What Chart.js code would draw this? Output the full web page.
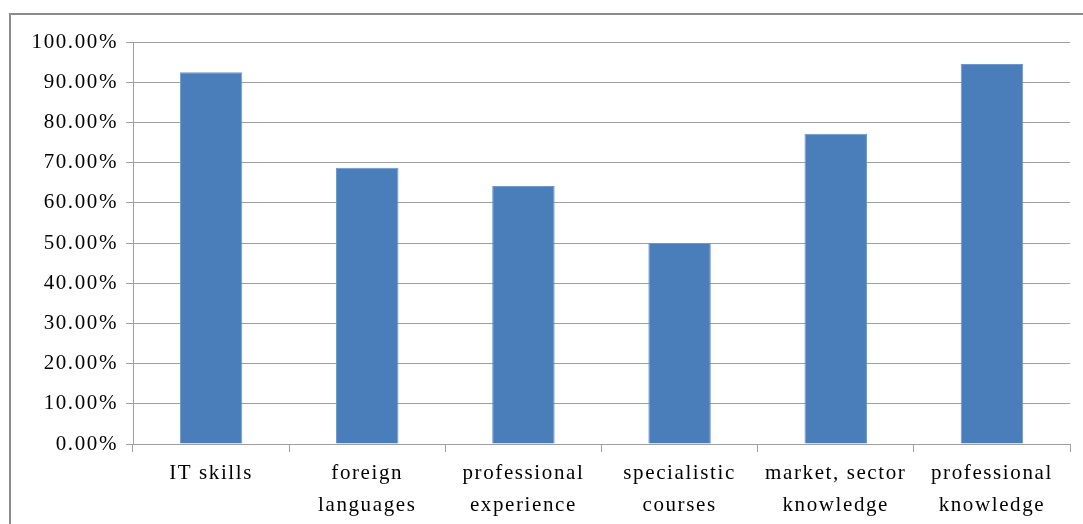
<!DOCTYPE html>
<html>
<head>
<meta charset="utf-8">
<script src="https://cdn.jsdelivr.net/npm/chart.js@4/dist/chart.umd.min.js"></script>
<style>
  html, body { margin: 0; padding: 0; background: #fff; overflow: hidden; }
  #frame { position: absolute; left: 9px; top: 13px; width: 1200px; height: 700px;
           border: 2px solid #8c8c8c; box-sizing: border-box; }
  #chart { position: absolute; left: 0; top: 0; }
</style>
</head>
<body>
<div id="frame"></div>
<canvas id="chart" width="1083" height="524"></canvas>
<script>
// ── DATA ────────────────────────────────────────────────
const categories = [
  ['IT skills'],
  ['foreign', 'languages'],
  ['professional', 'experience'],
  ['specialistic', 'courses'],
  ['market, sector', 'knowledge'],
  ['professional', 'knowledge'],
];
const shares = [92.5, 68.7, 64.2, 50.0, 77.2, 94.5];
const yTicks = [0, 10, 20, 30, 40, 50, 60, 70, 80, 90, 100];

// ── STYLE ───────────────────────────────────────────────
const FONT = { family: '"Liberation Serif", "Times New Roman", serif', size: 21 };
const GRID = '#a0a0a0';
const SPACING = '1.6px';

// canvas letter spacing, re-applied since resizes reset the context
const letterSpacing = {
  id: 'letterSpacing',
  beforeLayout(chart) { chart.ctx.letterSpacing = SPACING; },
  beforeDraw(chart)   { chart.ctx.letterSpacing = SPACING; },
};

new Chart(document.getElementById('chart'), {
  type: 'bar',
  data: {
    labels: categories,
    datasets: [{
      data: shares,
      backgroundColor: '#4A7EBB',
      borderColor: '#6d97cc',
      borderWidth: 1,
      categoryPercentage: 1,
      barPercentage: 0.4,
    }],
  },
  options: {
    responsive: false,
    animation: false,
    layout: { padding: { top: 42, right: 13, left: 0, bottom: 0 } },
    plugins: { legend: { display: false }, tooltip: { enabled: false } },
    scales: {
      x: {
        grid: { drawOnChartArea: false, drawTicks: true, tickLength: 8, color: GRID, offset: true },
        border: { color: GRID, width: 1 },
        ticks: { color: '#000', font: { ...FONT, lineHeight: 1.5 }, padding: 6, maxRotation: 0, autoSkip: false },
        afterFit(scale) { scale.height = 80; },
      },
      y: {
        min: 0, max: 100,
        afterBuildTicks(scale) { scale.ticks = yTicks.map(v => ({ value: v })); },
        grid: { color: GRID, tickLength: 7, lineWidth: 1 },
        border: { color: GRID, width: 1 },
        ticks: {
          color: '#000', font: FONT, padding: 8,
          callback: v => v.toFixed(2) + '%',
        },
        afterFit(scale) { scale.width = 133; },
      },
    },
  },
  plugins: [letterSpacing],
});
</script>
</body>
</html>
